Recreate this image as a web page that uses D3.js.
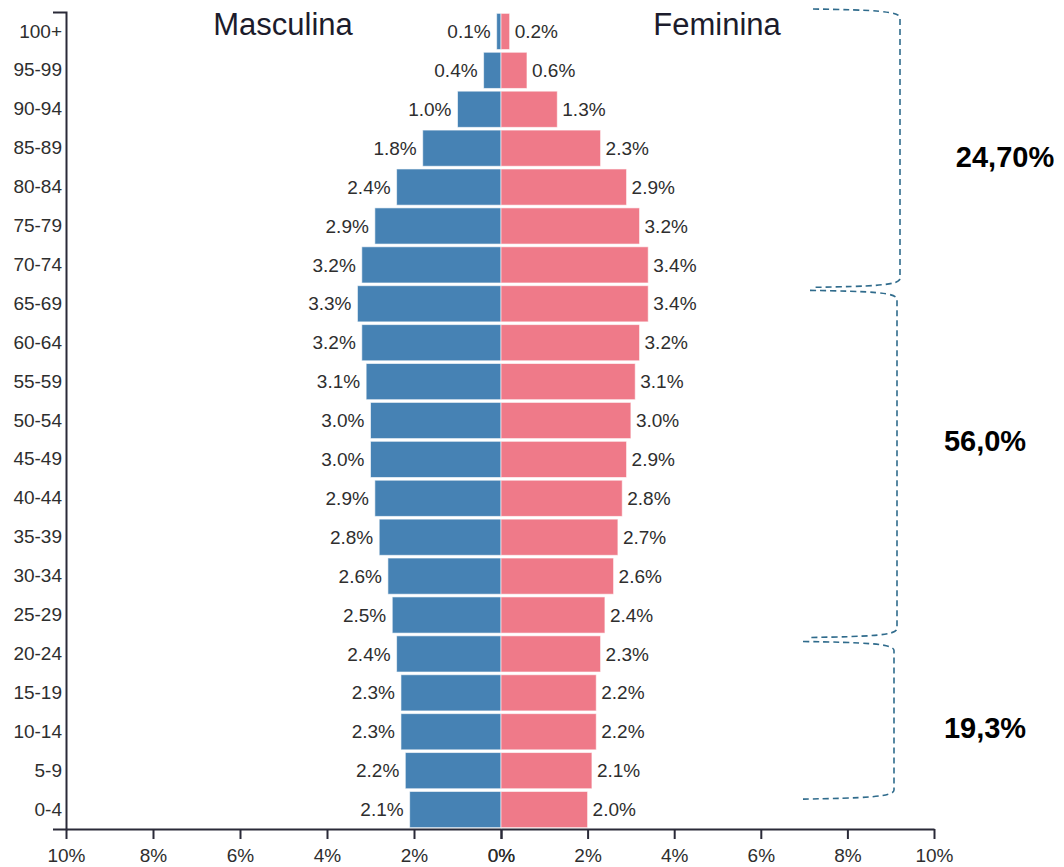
<!DOCTYPE html>
<html>
<head>
<meta charset="utf-8">
<script src="https://cdn.jsdelivr.net/npm/d3@7"></script>
<style>
  body { margin: 0; background: #fff; }
  svg text { font-family: Arial, "Liberation Sans", sans-serif; }
</style>
</head>
<body>
<svg width="1064" height="867"></svg>
<script>
// age groups from top to bottom
var ages = ["100+","95-99","90-94","85-89","80-84","75-79","70-74","65-69","60-64","55-59",
            "50-54","45-49","40-44","35-39","30-34","25-29","20-24","15-19","10-14","5-9","0-4"];
var male   = [0.1,0.4,1.0,1.8,2.4,2.9,3.2,3.3,3.2,3.1,3.0,3.0,2.9,2.8,2.6,2.5,2.4,2.3,2.3,2.2,2.1];
var female = [0.2,0.6,1.3,2.3,2.9,3.2,3.4,3.4,3.2,3.1,3.0,2.9,2.8,2.7,2.6,2.4,2.3,2.2,2.2,2.1,2.0];
var xTicks = [0,2,4,6,8,10];
var titles = ["Masculina","Feminina"];
var groups = [
  {label:"24,70%", from:"100+",  to:"65-69"},
  {label:"56,0%",  from:"65-69", to:"20-24"},
  {label:"19,3%",  from:"20-24", to:"0-4"}
];

var svg = d3.select("svg");
var plotTop = 12, plotBottom = 829, mid = 501;

var y = d3.scaleBand().domain(ages).range([plotTop, plotBottom]).paddingInner(0.07).paddingOuter(0.035);
var xL = d3.scaleLinear().domain([0,10]).range([mid, 66]);
var xR = d3.scaleLinear().domain([0,10]).range([mid, 934]);

var rows = ages.map(function(a,i){ return {age:a, m:male[i], f:female[i]}; });

// bars
svg.append("g").selectAll("rect").data(rows).enter().append("rect")
    .attr("x", function(d){ return xL(d.m); })
    .attr("y", function(d){ return y(d.age); })
    .attr("width", function(d){ return mid - xL(d.m); })
    .attr("height", y.bandwidth())
    .attr("fill", "#4682b4")
    .attr("stroke", "#fff").attr("stroke-opacity", 0.6);

svg.append("g").selectAll("rect").data(rows).enter().append("rect")
    .attr("x", mid)
    .attr("y", function(d){ return y(d.age); })
    .attr("width", function(d){ return xR(d.f) - mid; })
    .attr("height", y.bandwidth())
    .attr("fill", "#ef7a89")
    .attr("stroke", "#fff").attr("stroke-opacity", 0.6);

// value labels
var fmt = function(v){ return v.toFixed(1) + "%"; };
svg.append("g").selectAll("text").data(rows).enter().append("text")
    .attr("x", function(d){ return xL(d.m) - 6; })
    .attr("y", function(d){ return y(d.age) + y.bandwidth()/2; })
    .attr("dy", "0.35em")
    .attr("text-anchor", "end")
    .attr("font-size", "19px").attr("fill", "#2e2e2e")
    .text(function(d){ return fmt(d.m); });

svg.append("g").selectAll("text").data(rows).enter().append("text")
    .attr("x", function(d){ return xR(d.f) + 5; })
    .attr("y", function(d){ return y(d.age) + y.bandwidth()/2; })
    .attr("dy", "0.35em")
    .attr("font-size", "19px").attr("fill", "#2e2e2e")
    .text(function(d){ return fmt(d.f); });

// axes
function styleAxis(g){
  g.selectAll("path, line").attr("stroke", "#2a2a38").attr("stroke-width", 2);
  g.selectAll("text").attr("font-size", "19px").attr("fill", "#2e2e2e")
    .attr("font-family", "Arial, 'Liberation Sans', sans-serif");
}
svg.append("g").attr("transform", "translate(0," + plotBottom + ")")
    .call(d3.axisBottom(xL).tickValues(xTicks).tickFormat(function(d){ return d + "%"; })
      .tickSizeInner(10).tickSizeOuter(0).tickPadding(10))
    .call(styleAxis);
svg.append("g").attr("transform", "translate(0," + plotBottom + ")")
    .call(d3.axisBottom(xR).tickValues(xTicks).tickFormat(function(d){ return d + "%"; })
      .tickSizeInner(10).tickSizeOuter(0).tickPadding(10))
    .call(styleAxis);
svg.append("g").attr("transform", "translate(66,0)")
    .call(d3.axisLeft(y).tickSizeInner(0).tickSizeOuter(13).tickPadding(4))
    .call(styleAxis);

// side titles
svg.append("g").selectAll("text").data(titles).enter().append("text")
    .attr("x", function(d,i){ return i ? 717 : 283; })
    .attr("y", 35)
    .attr("text-anchor", "middle")
    .attr("font-size", "31px").attr("fill", "#1c1c2c")
    .text(function(d){ return d; });

// brackets
var bracketX = [[813,900],[810,897],[803,894]];
var offTop = [-3, 6, 7], offBot = [3, 3, 9];
var labelPos = [[1005,157],[985,441],[985,728]];
groups.forEach(function(g,i){
  var t = y(g.from) - y.step()*y.paddingInner()/2 + offTop[i];
  var b = y(g.to) - y.step()*y.paddingInner()/2 + offBot[i];
  var x0 = bracketX[i][0], x1 = bracketX[i][1];
  var p = d3.path();
  p.moveTo(x0, t);
  p.bezierCurveTo(x0 + 60, t + 1, x1, t + 2, x1, t + 9);
  p.lineTo(x1, b - 9);
  p.bezierCurveTo(x1, b - 2, x0 + 60, b - 1, x0, b);
  svg.append("path").attr("d", p.toString())
      .attr("fill", "none").attr("stroke", "#2f6b8c")
      .attr("stroke-width", 1.6).attr("stroke-dasharray", "6,4");
  svg.append("text")
      .attr("x", labelPos[i][0]).attr("y", labelPos[i][1])
      .attr("dy", "0.35em").attr("text-anchor", "middle")
      .attr("font-size", "29px").attr("font-weight", "bold").attr("fill", "#000")
      .text(g.label);
});
</script>
</body>
</html>
